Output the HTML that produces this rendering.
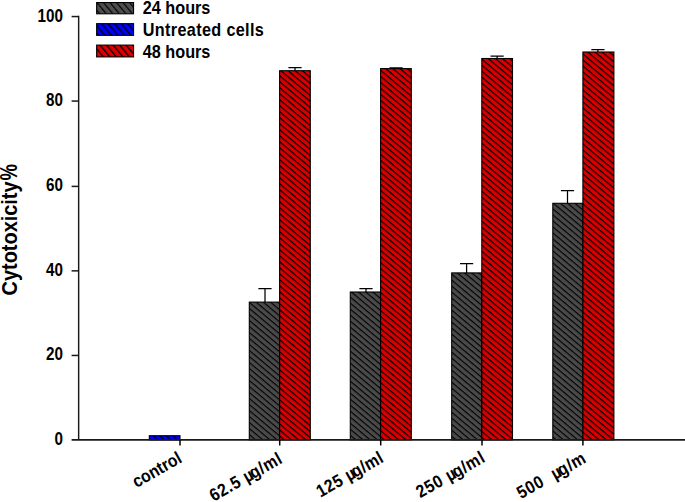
<!DOCTYPE html>
<html><head><meta charset="utf-8"><title>Cytotoxicity chart</title>
<style>
html,body{margin:0;padding:0;background:#fff;}
body{width:685px;height:502px;overflow:hidden;}
svg{display:block;}
text{font-family:"Liberation Sans",Arial,sans-serif;font-weight:bold;fill:#000;}
</style></head><body>
<svg width="685" height="502" viewBox="0 0 685 502">
<defs>
<pattern id="hg" patternUnits="userSpaceOnUse" width="10" height="4.6" patternTransform="rotate(40)"><rect width="10" height="4.6" fill="#4a4a4a"/><line x1="0" y1="2.4" x2="10" y2="2.4" stroke="#000" stroke-width="1.15"/></pattern>
<pattern id="hr" patternUnits="userSpaceOnUse" width="10" height="4.6" patternTransform="rotate(40)"><rect width="10" height="4.6" fill="#da0000"/><line x1="0" y1="2.4" x2="10" y2="2.4" stroke="#000" stroke-width="1.22"/></pattern>
<pattern id="lg" patternUnits="userSpaceOnUse" width="10" height="5" patternTransform="rotate(50)"><rect width="10" height="5" fill="#4e4e4e"/><line x1="0" y1="2.4" x2="10" y2="2.4" stroke="#000" stroke-width="1.15"/></pattern>
<pattern id="lr" patternUnits="userSpaceOnUse" width="10" height="5" patternTransform="rotate(50)"><rect width="10" height="5" fill="#df0000"/><line x1="0" y1="2.4" x2="10" y2="2.4" stroke="#000" stroke-width="1.3"/></pattern>
<pattern id="hb" patternUnits="userSpaceOnUse" width="10" height="5" patternTransform="rotate(50)"><rect width="10" height="5" fill="#0000ff"/><line x1="0" y1="2.4" x2="10" y2="2.4" stroke="#000" stroke-width="1.3"/></pattern>
</defs>
<rect width="685" height="502" fill="#fff"/>

<path d="M265.0 302.1V288.6M258.4 288.6H271.6" stroke="#000" stroke-width="1.25" fill="none"/>
<path d="M295.0 70.7V67.5M288.4 67.5H301.6" stroke="#000" stroke-width="1.25" fill="none"/>
<path d="M366.0 292.0V288.7M359.4 288.7H372.6" stroke="#000" stroke-width="1.25" fill="none"/>
<path d="M396.1 68.6V67.8M389.5 67.8H402.7" stroke="#000" stroke-width="1.25" fill="none"/>
<path d="M466.6 272.9V263.5M460.0 263.5H473.2" stroke="#000" stroke-width="1.25" fill="none"/>
<path d="M497.1 58.5V56.0M490.5 56.0H503.7" stroke="#000" stroke-width="1.25" fill="none"/>
<path d="M567.5 203.3V190.6M560.9 190.6H574.1" stroke="#000" stroke-width="1.25" fill="none"/>
<path d="M597.9 52.0V49.6M591.3 49.6H604.5" stroke="#000" stroke-width="1.25" fill="none"/>
<rect x="149.3" y="435.7" width="30.7" height="4.2" fill="url(#hb)" stroke="#000" stroke-width="1.1"/>
<rect x="249.3" y="302.1" width="30.3" height="137.8" fill="url(#hg)" stroke="#000" stroke-width="1.1"/>
<rect x="279.6" y="70.7" width="30.7" height="369.2" fill="url(#hr)" stroke="#000" stroke-width="1.1"/>
<rect x="350.3" y="292.0" width="30.3" height="147.9" fill="url(#hg)" stroke="#000" stroke-width="1.1"/>
<rect x="380.6" y="68.6" width="30.7" height="371.2" fill="url(#hr)" stroke="#000" stroke-width="1.1"/>
<rect x="451.7" y="272.9" width="30.1" height="167.0" fill="url(#hg)" stroke="#000" stroke-width="1.1"/>
<rect x="481.8" y="58.5" width="30.7" height="381.4" fill="url(#hr)" stroke="#000" stroke-width="1.1"/>
<rect x="552.8" y="203.3" width="30.1" height="236.6" fill="url(#hg)" stroke="#000" stroke-width="1.1"/>
<rect x="582.9" y="52.0" width="31.0" height="387.9" fill="url(#hr)" stroke="#000" stroke-width="1.1"/>
<path d="M78.65 15.80V439.85" stroke="#1a1a1a" stroke-width="1.45" fill="none"/>
<path d="M71.6 439.85H685" stroke="#1a1a1a" stroke-width="1.7" fill="none"/>
<path d="M71.6 355.46H78.65" stroke="#1a1a1a" stroke-width="1.5" fill="none"/>
<path d="M71.6 270.85H78.65" stroke="#1a1a1a" stroke-width="1.5" fill="none"/>
<path d="M71.6 186.40H78.65" stroke="#1a1a1a" stroke-width="1.5" fill="none"/>
<path d="M71.6 101.07H78.65" stroke="#1a1a1a" stroke-width="1.5" fill="none"/>
<path d="M71.6 16.55H78.65" stroke="#1a1a1a" stroke-width="1.5" fill="none"/>
<text transform="translate(62.9 444.80) scale(0.85 1)" font-size="17.9" text-anchor="end">0</text>
<text transform="translate(62.9 360.41) scale(0.85 1)" font-size="17.9" text-anchor="end">20</text>
<text transform="translate(62.9 275.80) scale(0.85 1)" font-size="17.9" text-anchor="end">40</text>
<text transform="translate(62.9 191.35) scale(0.85 1)" font-size="17.9" text-anchor="end">60</text>
<text transform="translate(62.9 106.02) scale(0.85 1)" font-size="17.9" text-anchor="end">80</text>
<text transform="translate(62.9 21.50) scale(0.85 1)" font-size="17.9" text-anchor="end">100</text>
<path d="M180.0 439.9V445.5" stroke="#000" stroke-width="1.5" fill="none"/>
<path d="M279.7 439.9V445.5" stroke="#000" stroke-width="1.5" fill="none"/>
<path d="M380.7 439.9V445.5" stroke="#000" stroke-width="1.5" fill="none"/>
<path d="M482.0 439.9V445.5" stroke="#000" stroke-width="1.5" fill="none"/>
<path d="M582.9 439.9V445.5" stroke="#000" stroke-width="1.5" fill="none"/>
<text transform="translate(183.0 461.6) rotate(-29.5) scale(0.893 1)" font-size="17.7" text-anchor="end" xml:space="preserve">control</text>
<text transform="translate(283.3 462.4) rotate(-29.5) scale(0.893 1)" font-size="17.7" text-anchor="end" textLength="89.6" lengthAdjust="spacing" xml:space="preserve">62.5 <tspan>µ</tspan><tspan dx="-2.8">g</tspan>/ml</text>
<text transform="translate(384.6 461.4) rotate(-29.5) scale(0.893 1)" font-size="17.7" text-anchor="end" textLength="82.4" lengthAdjust="spacing" xml:space="preserve">125 <tspan>µ</tspan><tspan dx="-2.8">g</tspan>/ml</text>
<text transform="translate(486.0 461.2) rotate(-29.5) scale(0.893 1)" font-size="17.7" text-anchor="end" textLength="84.5" lengthAdjust="spacing" xml:space="preserve">250 <tspan>µ</tspan><tspan dx="-2.8">g</tspan>/ml</text>
<text transform="translate(587.1 461.8) rotate(-29.5) scale(0.893 1)" font-size="17.7" text-anchor="end" textLength="85.1" lengthAdjust="spacing" xml:space="preserve">500  <tspan>µ</tspan><tspan dx="-2.8">g</tspan>/m</text>
<text transform="translate(16.7 295.4) rotate(-90) scale(1 1.087)" font-size="19.93" text-anchor="start">Cytotoxicity</text>
<text transform="translate(16.9 180.4) rotate(-90) scale(1 1.27)" font-size="18.5" font-weight="normal" text-anchor="start">%</text>
<rect x="96.65" y="2.55" width="36.9" height="11.25" fill="url(#lg)" stroke="#000" stroke-width="1.1"/>
<text transform="translate(142.8 13.90) scale(0.912 1)" font-size="17.8" textLength="74.1" lengthAdjust="spacing">24 hours</text>
<rect x="96.65" y="23.65" width="36.9" height="11.7" fill="url(#hb)" stroke="#000" stroke-width="1.1"/>
<text transform="translate(142.8 35.80) scale(0.912 1)" font-size="17.8" textLength="132.7" lengthAdjust="spacing">Untreated cells</text>
<rect x="96.65" y="45.1" width="36.9" height="11.8" fill="url(#lr)" stroke="#000" stroke-width="1.1"/>
<text transform="translate(142.8 57.70) scale(0.912 1)" font-size="17.8" textLength="74.1" lengthAdjust="spacing">48 hours</text>
</svg></body></html>
